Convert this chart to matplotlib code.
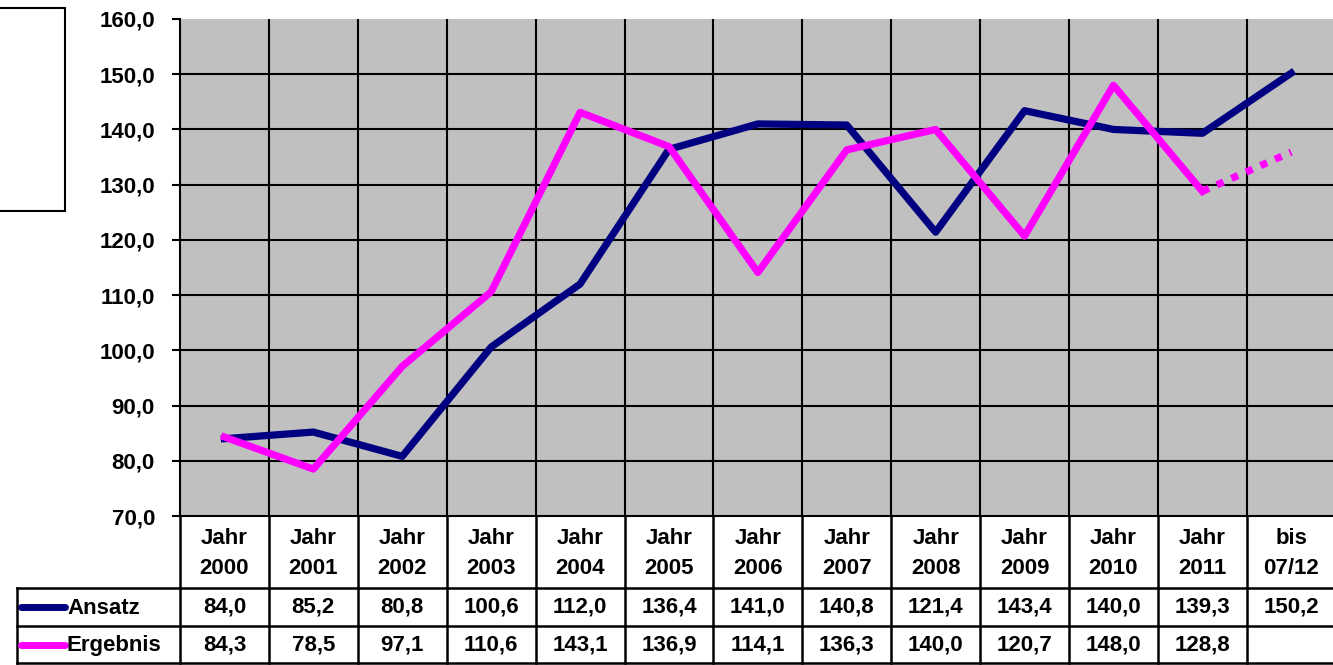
import numpy as np
import matplotlib
matplotlib.use('Agg')
import matplotlib.pyplot as plt
from matplotlib.patches import Rectangle

plt.rcParams['font.family'] = ['Liberation Sans', 'DejaVu Sans']
plt.rcParams['font.weight'] = 'bold'

# data
kategorien = ['Jahr\n2000', 'Jahr\n2001', 'Jahr\n2002', 'Jahr\n2003', 'Jahr\n2004',
              'Jahr\n2005', 'Jahr\n2006', 'Jahr\n2007', 'Jahr\n2008', 'Jahr\n2009',
              'Jahr\n2010', 'Jahr\n2011', 'bis\n07/12']
ansatz = [84.0, 85.2, 80.8, 100.6, 112.0, 136.4, 141.0, 140.8, 121.4, 143.4, 140.0, 139.3, 150.2]
ergebnis = [84.3, 78.5, 97.1, 110.6, 143.1, 136.9, 114.1, 136.3, 140.0, 120.7, 148.0, 128.8]
ergebnis_prognose = [128.8, 135.9]  # dotted part, 2011 -> bis 07/12
y_ticks = np.arange(70, 161, 10)

navy = '#000080'
magenta = '#FF00FF'
fs = 16

def fmt(v):
    return f'{v:.1f}'.replace('.', ',')

W, H = 1333, 665
fig = plt.figure(figsize=(W / 100, H / 100), dpi=100)
fig.patch.set_facecolor('white')

# plot area in pixels
left, top, bottom = 180, 19, 516
col_w = 88.9
n = len(kategorien)
right = left + n * col_w

ax = fig.add_axes([left / W, 1 - bottom / H, (right - left) / W, (bottom - top) / H])
ax.set_facecolor('#C0C0C0')
x = np.arange(n)
ax.set_xlim(-0.5, n - 0.5)
ax.set_ylim(70, 160)

for i in range(1, n):
    ax.axvline(i - 0.5, color='black', lw=1.5, zorder=1)
for yv in y_ticks[1:-1]:
    ax.axhline(yv, color='black', lw=1.5, zorder=1)

ax.plot(x, ansatz, color=navy, lw=5.2, zorder=3, solid_joinstyle='round')
ax.plot(x[:len(ergebnis)], ergebnis, color=magenta, lw=5.2, zorder=4, solid_joinstyle='round')
ax.plot(x[len(ergebnis) - 1:], ergebnis_prognose, color=magenta, lw=5.2,
        linestyle=(0, (1, 1.2)), zorder=4)

ax.set_xticks([])
ax.set_yticks(y_ticks)
ax.set_yticklabels([fmt(v) for v in y_ticks], fontsize=fs, fontweight='bold')
ax.tick_params(axis='y', direction='out', length=6, width=1.5, pad=12)
for s in ['top', 'right']:
    ax.spines[s].set_visible(False)
ax.spines['left'].set_linewidth(1.5)
ax.spines['bottom'].set_linewidth(1.5)

# data table below the chart, drawn in pixel coordinates
tab = fig.add_axes([0, 0, 1, 1], zorder=5)
tab.set_xlim(0, W)
tab.set_ylim(H, 0)
tab.axis('off')
tab.patch.set_alpha(0)

head_bot, row1_bot, row2_bot = 588, 626, 663
tab_left = 17
lw = 1.8
edges = [left + i * col_w for i in range(n + 1)]
for e in edges:
    tab.plot([e, e], [bottom, row2_bot], color='black', lw=lw)
tab.plot([tab_left, tab_left], [head_bot, row2_bot], color='black', lw=lw)
for yy in [head_bot, row1_bot, row2_bot]:
    tab.plot([tab_left, W], [yy, yy], color='black', lw=lw)

for i, lab in enumerate(kategorien):
    cx = left + (i + 0.5) * col_w
    l1, l2 = lab.split('\n')
    tab.text(cx, 538, l1, ha='center', va='center', fontsize=fs, fontweight='bold')
    tab.text(cx, 569, l2, ha='center', va='center', fontsize=fs, fontweight='bold')

rows = [('Ansatz', ansatz, navy), ('Ergebnis', ergebnis, magenta)]
row_mid = [(head_bot + row1_bot) / 2, (row1_bot + row2_bot) / 2]
for (name, vals, col), ym in zip(rows, row_mid):
    tab.plot([21, 65], [ym, ym], color=col, lw=5, solid_capstyle='round')
    tab.text(67, ym + 1, name, ha='left', va='center', fontsize=fs, fontweight='bold')
    for i, v in enumerate(vals):
        cx = left + (i + 0.5) * col_w
        tab.text(cx, ym, fmt(v), ha='center', va='center', fontsize=fs, fontweight='bold')

# empty legend box at top left
tab.add_patch(Rectangle((-2, 8), 67, 203, facecolor='white', edgecolor='black', lw=1.5))

fig.savefig('out.png', dpi=100)
